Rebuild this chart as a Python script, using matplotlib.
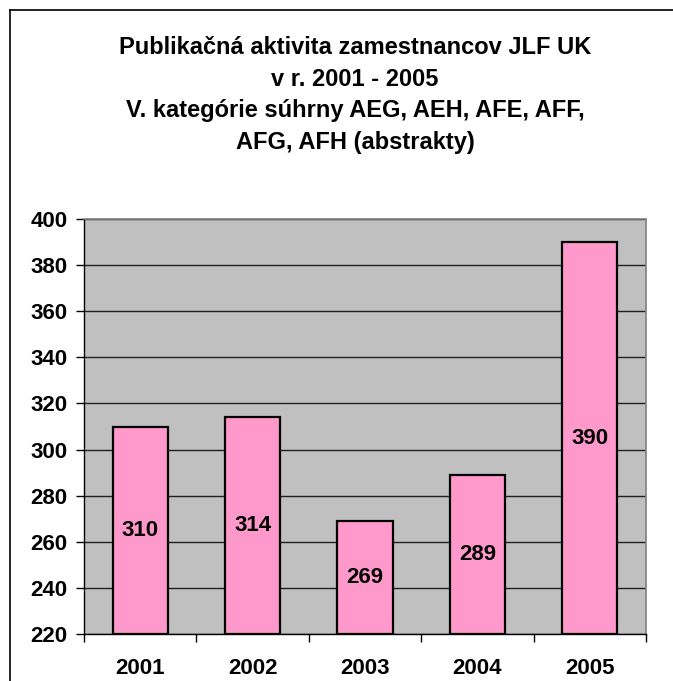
import matplotlib
matplotlib.use("Agg")
import matplotlib.pyplot as plt
from matplotlib.lines import Line2D

years = ["2001", "2002", "2003", "2004", "2005"]
counts = [310, 314, 269, 289, 390]
yticks = [220, 240, 260, 280, 300, 320, 340, 360, 380, 400]
title_lines = [
    "Publikačná aktivita zamestnancov JLF UK",
    "v r. 2001 - 2005",
    "V. kategórie súhrny AEG, AEH, AFE, AFF,",
    "AFG, AFH (abstrakty)",
]

plt.rcParams["font.family"] = ["Liberation Sans", "DejaVu Sans"]
plt.rcParams["font.weight"] = "bold"

W, H = 673, 681
fig = plt.figure(figsize=(W / 100, H / 100), dpi=100)

# outer chart border (right/bottom edges fall outside the picture)
fig.add_artist(Line2D([10 / W, 10 / W], [0, 1 - 10 / H], color="black", lw=1.2))
fig.add_artist(Line2D([10 / W, 1], [1 - 10 / H, 1 - 10 / H], color="black", lw=1.2))

# title, one line at a time
for i, line in enumerate(title_lines):
    fig.text((355) / W, 1 - (47 + 32 * i) / H, line, ha="center", va="center",
             fontsize=17, fontweight="bold")

left, right, top, bottom = 84, 646, 219, 634
ax = fig.add_axes([left / W, 1 - bottom / H, (right - left) / W, (bottom - top) / H])
ax.set_facecolor("#C0C0C0")

x = list(range(len(years)))
bars = ax.bar(x, [c - 220 for c in counts], bottom=220, width=0.49,
              color="#FF99CC", edgecolor="black", linewidth=1.6, zorder=3)
for xi, c in zip(x, counts):
    ax.text(xi, (220 + c) / 2, str(c), ha="center", va="center",
            fontsize=16, fontweight="bold", zorder=4)

ax.set_ylim(220, 400)
ax.set_xlim(-0.5, len(years) - 0.5)
ax.set_yticks(yticks)
ax.set_yticklabels([str(v) for v in yticks], fontsize=16, fontweight="bold")
ax.yaxis.grid(True, color="#202020", lw=1.0, zorder=1)
ax.set_axisbelow(True)

ax.set_xticks([i - 0.5 for i in range(len(years) + 1)])
ax.set_xticklabels([])
ax.set_xticks(x, minor=True)
ax.set_xticklabels(years, minor=True, fontsize=16, fontweight="bold")
ax.tick_params(axis="x", which="minor", length=0, pad=17)
ax.tick_params(axis="x", which="major", length=6, width=1, direction="out")
ax.tick_params(axis="y", length=6, width=1, direction="out", pad=6)

for side in ["top", "right"]:
    ax.spines[side].set_color("#808080")
    ax.spines[side].set_linewidth(1.2)
for side in ["left", "bottom"]:
    ax.spines[side].set_color("black")
    ax.spines[side].set_linewidth(1.0)

fig.savefig("out.png", dpi=100)
